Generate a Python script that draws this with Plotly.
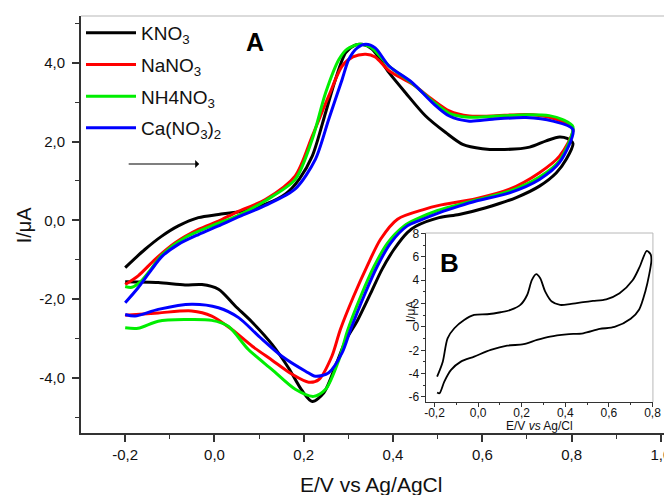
import plotly.graph_objects as go

# ---------------- data ----------------
series_names = ["KNO<sub>3</sub>", "NaNO<sub>3</sub>", "NH4NO<sub>3</sub>", "Ca(NO<sub>3</sub>)<sub>2</sub>"]
series_colors = ["#000000", "#ff0000", "#00ee00", "#0000ff"]

E_KNO3 = [-0.200, -0.156, -0.118, -0.081, -0.036, 0.009, 0.054, 0.114, 0.160, 0.190, 0.219, 0.249, 0.271, 0.294,
          0.315, 0.331, 0.353, 0.391, 0.428, 0.473, 0.518, 0.556, 0.600, 0.650, 0.706, 0.743, 0.773, 0.790, 0.803,
          0.788, 0.766, 0.728, 0.676, 0.608, 0.548, 0.503, 0.451, 0.432, 0.402, 0.375, 0.350, 0.320, 0.294, 0.271,
          0.245, 0.219, 0.196, 0.166, 0.129, 0.084, 0.047, 0.009, -0.028, -0.066, -0.126, -0.200]
I_KNO3 = [-1.20, -0.74, -0.40, -0.14, 0.07, 0.15, 0.22, 0.41, 0.68, 1.05, 1.63, 2.74, 3.58, 4.26,
          4.45, 4.47, 4.35, 3.75, 3.24, 2.65, 2.23, 1.93, 1.82, 1.80, 1.86, 2.02, 2.12, 2.08, 1.95,
          1.55, 1.21, 0.87, 0.58, 0.32, 0.15, 0.07, -0.15, -0.31, -0.74, -1.25, -1.85, -2.55, -3.05, -3.70,
          -4.38, -4.60, -4.32, -3.75, -3.15, -2.58, -2.18, -1.75, -1.63, -1.64, -1.58, -1.56]

E_NaNO3 = [-0.200, -0.171, -0.133, -0.088, -0.036, 0.009, 0.050, 0.114, 0.181, 0.219, 0.256, 0.286, 0.310, 0.339,
           0.360, 0.391, 0.443, 0.488, 0.526, 0.571, 0.620, 0.700, 0.750, 0.780, 0.803,
           0.773, 0.728, 0.661, 0.586, 0.503, 0.470, 0.410, 0.372, 0.342, 0.312, 0.282, 0.263, 0.234, 0.211,
           0.174, 0.129, 0.084, 0.039, -0.006, -0.051, -0.126, -0.200]
I_NaNO3 = [-1.63, -1.41, -0.99, -0.57, -0.23, -0.02, 0.21, 0.53, 1.13, 2.14, 3.16, 3.92, 4.15, 4.22,
           4.15, 3.80, 3.46, 3.07, 2.78, 2.65, 2.65, 2.69, 2.62, 2.50, 2.32,
           1.63, 1.21, 0.79, 0.55, 0.38, 0.28, 0.03, -0.48, -1.16, -1.92, -2.77, -3.45, -4.04, -4.11,
           -3.91, -3.55, -3.19, -2.77, -2.43, -2.30, -2.35, -2.41]

E_NH4NO3 = [-0.200, -0.185, -0.165, -0.141, -0.118, -0.066, -0.006, 0.050, 0.114, 0.181, 0.219, 0.249, 0.279,
            0.297, 0.324, 0.350, 0.391, 0.443, 0.488, 0.526, 0.571, 0.620, 0.700, 0.750, 0.780, 0.803,
            0.773, 0.728, 0.661, 0.586, 0.500, 0.450, 0.425, 0.388, 0.358, 0.328, 0.298, 0.279, 0.249, 0.222,
            0.181, 0.129, 0.076, 0.031, -0.006, -0.066, -0.126, -0.171, -0.200]
I_NH4NO3 = [-1.68, -1.70, -1.55, -1.22, -0.88, -0.44, -0.14, 0.11, 0.50, 1.04, 2.06, 3.24, 4.09,
            4.35, 4.47, 4.40, 3.92, 3.48, 3.03, 2.72, 2.62, 2.64, 2.68, 2.66, 2.56, 2.38,
            1.52, 1.10, 0.74, 0.52, 0.25, 0.02, -0.14, -0.57, -1.16, -1.92, -2.80, -3.53, -4.29, -4.47,
            -4.29, -3.79, -3.28, -2.69, -2.54, -2.52, -2.56, -2.74, -2.73]

E_CaNO3 = [-0.200, -0.171, -0.141, -0.118, -0.081, -0.036, 0.009, 0.050, 0.114, 0.181, 0.226, 0.256, 0.286,
           0.301, 0.320, 0.339, 0.360, 0.391, 0.443, 0.488, 0.526, 0.571, 0.623, 0.698, 0.758, 0.803,
           0.773, 0.728, 0.661, 0.586, 0.548, 0.503, 0.460, 0.432, 0.395, 0.365, 0.335, 0.305, 0.286, 0.256,
           0.226, 0.204, 0.151, 0.099, 0.054, 0.009, -0.051, -0.126, -0.178, -0.200]
I_CaNO3 = [-2.09, -1.71, -1.25, -0.92, -0.61, -0.36, -0.14, 0.07, 0.38, 0.80, 1.55, 2.57, 3.58,
           4.09, 4.38, 4.47, 4.38, 3.92, 3.50, 2.99, 2.65, 2.52, 2.57, 2.61, 2.52, 2.31,
           1.47, 1.04, 0.70, 0.49, 0.36, 0.19, 0.00, -0.14, -0.57, -1.16, -1.92, -2.77, -3.36, -3.87,
           -3.96, -3.83, -3.45, -2.94, -2.47, -2.22, -2.13, -2.26, -2.43, -2.39]

# inset B
E_B = [-0.188, -0.162, -0.140, -0.109, -0.064, -0.018, 0.042, 0.103, 0.149, 0.194, 0.225, 0.247, 0.267, 0.285,
       0.308, 0.338, 0.376, 0.421, 0.482, 0.527, 0.588, 0.649, 0.709, 0.740, 0.774, 0.792, 0.795,
       0.785, 0.768, 0.739, 0.700, 0.626, 0.558, 0.482, 0.406, 0.330, 0.270, 0.209, 0.133, 0.058, -0.018,
       -0.079, -0.124, -0.155, -0.177, -0.188]
I_B = [-4.25, -2.97, -0.97, -0.11, 0.60, 1.03, 1.09, 1.26, 1.46, 1.89, 2.74, 4.03, 4.52, 4.17,
       3.03, 2.18, 1.89, 1.95, 2.12, 2.23, 2.37, 2.89, 4.00, 5.10, 6.51, 6.20, 5.70,
       4.50, 3.10, 1.50, 0.70, 0.00, -0.17, -0.54, -0.63, -0.82, -1.11, -1.48, -1.60, -1.97, -2.54,
       -2.97, -3.68, -4.68, -5.68, -5.62]

x_tickvals = [-0.2, 0.0, 0.2, 0.4, 0.6, 0.8, 1.0]
x_ticktext = ["-0,2", "0,0", "0,2", "0,4", "0,6", "0,8", "1,0"]
y_tickvals = [-4, -2, 0, 2, 4]
y_ticktext = ["-4,0", "-2,0", "0,0", "2,0", "4,0"]
xb_tickvals = [-0.2, 0.0, 0.2, 0.4, 0.6, 0.8]
xb_ticktext = ["-0,2", "0,0", "0,2", "0,4", "0,6", "0,8"]
yb_tickvals = [-6, -4, -2, 0, 2, 4, 6, 8]
yb_ticktext = ["-6", "-4", "-2", "0", "2", "4", "6", "8"]

# ---------------- figure ----------------
FONT = "Liberation Sans, Arial, sans-serif"
fig = go.Figure()

main = [(E_KNO3, I_KNO3), (E_NaNO3, I_NaNO3), (E_NH4NO3, I_NH4NO3), (E_CaNO3, I_CaNO3)]
for k, ((ex, iy), name, col) in enumerate(zip(main, series_names, series_colors)):
    fig.add_trace(go.Scatter(x=ex, y=iy, mode="lines", name=name, legendgroup=f"g{k}",
                             line=dict(color=col, width=3, shape="spline", smoothing=0.8),
                             xaxis="x", yaxis="y"))

fig.add_trace(go.Scatter(x=E_B, y=I_B, mode="lines", showlegend=False,
                         line=dict(color="#000000", width=1.8, shape="spline", smoothing=0.8),
                         xaxis="x2", yaxis="y2"))

axis_common = dict(showline=True, linecolor="#333333", linewidth=1.8, ticks="outside",
                   tickcolor="#333333", showgrid=False, zeroline=False, mirror=False,
                   automargin=False, ticklabeloverflow="allow")
inset_common = dict(showline=True, linecolor="#333333", linewidth=1, ticks="outside",
                    tickcolor="#333333", showgrid=False, zeroline=False, automargin=False,
                    ticklabeloverflow="allow")

# inset domain (paper)
ix0, ix1, iy0, iy1 = 0.591, 0.981, 0.0743, 0.4796

fig.update_layout(
    template="none",
    width=664, height=495, autosize=False,
    margin=dict(l=81, r=0, t=16, b=62, pad=0),
    paper_bgcolor="white", plot_bgcolor="white",
    font=dict(family=FONT, color="#111111"),
    xaxis=dict(domain=[0, 1], range=[-0.299, 1.007], tickmode="array", tickvals=x_tickvals,
               ticktext=x_ticktext, ticklen=7, tickwidth=1.6, tickfont=dict(size=15),
               minor=dict(tickmode="linear", tick0=0, dtick=0.1, ticks="outside", ticklen=4,
                          tickwidth=1.4, tickcolor="#333333"),
               **axis_common),
    yaxis=dict(domain=[0, 1], range=[-5.4, 5.19], tickmode="array", tickvals=y_tickvals,
               ticktext=y_ticktext, ticklen=7, tickwidth=1.6, tickfont=dict(size=15),
               ticklabelstandoff=4,
               minor=dict(tickmode="linear", tick0=0, dtick=1, ticks="outside", ticklen=4,
                          tickwidth=1.4, tickcolor="#333333"),
               **axis_common),
    xaxis2=dict(domain=[ix0, ix1], anchor="y2", range=[-0.241, 0.802], tickmode="array",
                tickvals=xb_tickvals, ticktext=xb_ticktext, ticklen=4, tickwidth=1,
                tickfont=dict(size=12), ticklabelstandoff=-4,
                minor=dict(tickmode="linear", tick0=0, dtick=0.1, ticks="outside", ticklen=2,
                           tickwidth=1, tickcolor="#333333"),
                **inset_common),
    yaxis2=dict(domain=[iy0, iy1], anchor="x2", range=[-6.43, 8.05], tickmode="array",
                tickvals=yb_tickvals, ticktext=yb_ticktext, ticklen=4, tickwidth=1,
                tickfont=dict(size=12), ticklabelstandoff=-1,
                minor=dict(tickmode="linear", tick0=0, dtick=1, ticks="outside", ticklen=2,
                           tickwidth=1, tickcolor="#333333"),
                **inset_common),
    legend=dict(x=0.0, y=1.005, xanchor="left", yanchor="top", bgcolor="rgba(0,0,0,0)",
                font=dict(size=19, family=FONT, color="#111111"), tracegroupgap=4,
                itemwidth=50, borderwidth=0),
    showlegend=True,
    shapes=[
        dict(type="line", xref="paper", yref="paper", x0=0, x1=1, y0=1, y1=1,
             line=dict(color="#b8b8b8", width=1.2)),
        dict(type="line", xref="paper", yref="paper", x0=ix0, x1=ix1, y0=iy1, y1=iy1,
             line=dict(color="#b8b8b8", width=1)),
        dict(type="line", xref="paper", yref="paper", x0=ix1, x1=ix1, y0=iy0, y1=iy1,
             line=dict(color="#b8b8b8", width=1)),
    ],
    annotations=[
        dict(text="I/μA", xref="paper", yref="paper", x=-0.098, y=0.5, textangle=-90,
             showarrow=False, font=dict(size=20), xanchor="center", yanchor="middle"),
        dict(text="E/V vs Ag/AgCl", xref="paper", yref="paper", x=0.4966, y=-0.1247,
             showarrow=False, font=dict(size=21), xanchor="center", yanchor="middle"),
        dict(text="<b>A</b>", xref="paper", yref="paper", x=0.299, y=0.938, showarrow=False,
             font=dict(size=25, color="#000000"), xanchor="center", yanchor="middle"),
        dict(text="<b>B</b>", xref="paper", yref="paper", x=0.632, y=0.408, showarrow=False,
             font=dict(size=26, color="#000000"), xanchor="center", yanchor="middle"),
        dict(text="I/μA", xref="paper", yref="paper", x=0.565, y=0.293, textangle=-90,
             showarrow=False, font=dict(size=12), xanchor="center", yanchor="middle"),
        dict(text="E/V <i>vs</i> Ag/Cl", xref="paper", yref="paper", x=0.787, y=0.017,
             showarrow=False, font=dict(size=12), xanchor="center", yanchor="middle"),
        dict(text="", xref="paper", yref="paper", x=0.2027, y=0.645, ax=-72, ay=0,
             axref="pixel", ayref="pixel", showarrow=True, arrowhead=1, arrowsize=1.2,
             arrowwidth=1.1, arrowcolor="#000000"),
    ],
)

post = ("document.body.style.margin='0';document.body.style.padding='0';"
        "document.body.style.overflow='hidden';"
        "Plotly.relayout('{plot_id}', {width: 664, height: 495});")
fig.write_html("out.html", post_script=post, config={"displayModeBar": False})
